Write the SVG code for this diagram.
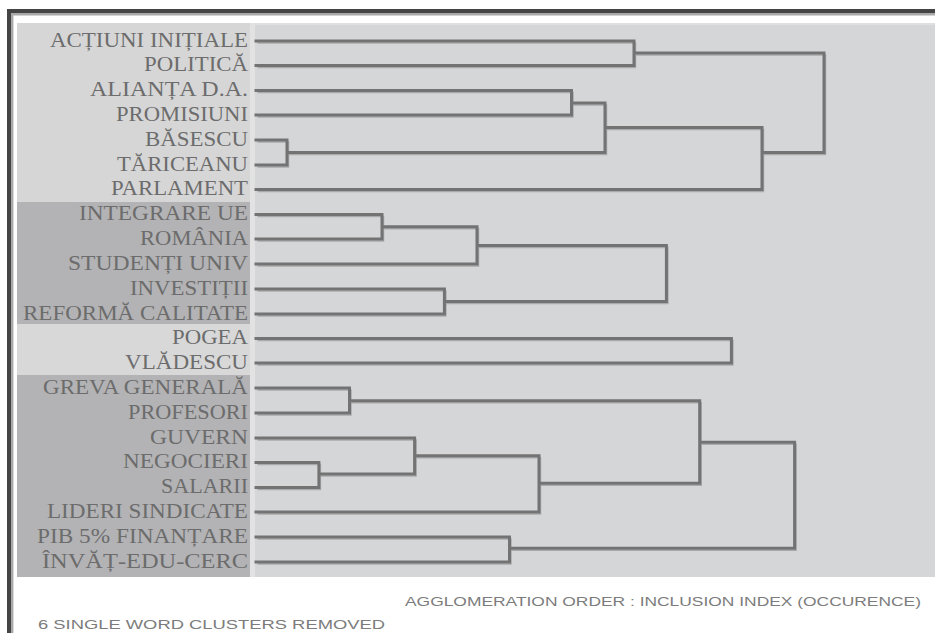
<svg xmlns="http://www.w3.org/2000/svg" width="935" height="633" viewBox="0 0 935 633">
<style>
.lbl{font-family:"Liberation Serif","DejaVu Serif",serif;font-size:22px;fill:#6c6c6c;text-anchor:end}
.foot{font-family:"Liberation Sans","DejaVu Sans",sans-serif;font-size:13px;fill:#7c7c7c}
.ln{fill:none;stroke:#737373;stroke-width:3;stroke-linecap:square;stroke-linejoin:miter}
.sh{fill:none;stroke:#a9aaac;stroke-width:1.5}
</style>
<rect x="0" y="0" width="935" height="633" fill="#ffffff"/>
<!-- frame -->
<path d="M9 633V11H935" fill="none" stroke="#454545" stroke-width="4"/>
<path d="M12.2 633V14.2H935" fill="none" stroke="#a9a9a9" stroke-width="2.4"/>
<!-- panel -->
<rect x="17" y="23" width="918" height="554" fill="#d5d6d8"/>
<rect x="17" y="23" width="918" height="2" fill="#dedfe0"/>
<!-- label bands -->
<rect x="17" y="23" width="233" height="179" fill="#d6d6d7"/>
<rect x="17" y="202" width="233" height="122" fill="#b3b3b5"/>
<rect x="17" y="324" width="233" height="51" fill="#d8d8d9"/>
<rect x="17" y="375" width="233" height="202" fill="#b3b3b5"/>
<rect x="250" y="23" width="5" height="554" fill="#e2e2e3"/>

<g id="n-actiuni"><text class="lbl" x="248" y="46.5" textLength="198" lengthAdjust="spacingAndGlyphs">ACȚIUNI INIȚIALE</text></g>
<g id="n-politica"><text class="lbl" x="248" y="71" textLength="104" lengthAdjust="spacingAndGlyphs">POLITICĂ</text></g>
<g id="n-alianta"><text class="lbl" x="248" y="96" textLength="158" lengthAdjust="spacingAndGlyphs">ALIANȚA D.A.</text></g>
<g id="n-promisiuni"><text class="lbl" x="248" y="120.5" textLength="132" lengthAdjust="spacingAndGlyphs">PROMISIUNI</text></g>
<g id="n-basescu"><text class="lbl" x="248" y="145.5" textLength="103" lengthAdjust="spacingAndGlyphs">BĂSESCU</text></g>
<g id="n-tariceanu"><text class="lbl" x="248" y="170.5" textLength="131" lengthAdjust="spacingAndGlyphs">TĂRICEANU</text></g>
<g id="n-parlament"><text class="lbl" x="248" y="195" textLength="137" lengthAdjust="spacingAndGlyphs">PARLAMENT</text></g>
<g id="n-integrare"><text class="lbl" x="248" y="220" textLength="169" lengthAdjust="spacingAndGlyphs">INTEGRARE UE</text></g>
<g id="n-romania"><text class="lbl" x="248" y="244.5" textLength="108" lengthAdjust="spacingAndGlyphs">ROMÂNIA</text></g>
<g id="n-studenti"><text class="lbl" x="248" y="269.5" textLength="180" lengthAdjust="spacingAndGlyphs">STUDENȚI UNIV</text></g>
<g id="n-investitii"><text class="lbl" x="248" y="294.5" textLength="118" lengthAdjust="spacingAndGlyphs">INVESTIȚII</text></g>
<g id="n-reforma"><text class="lbl" x="248" y="319.5" textLength="225" lengthAdjust="spacingAndGlyphs">REFORMĂ CALITATE</text></g>
<g id="n-pogea"><text class="lbl" x="248" y="344" textLength="76" lengthAdjust="spacingAndGlyphs">POGEA</text></g>
<g id="n-vladescu"><text class="lbl" x="248" y="368.5" textLength="123" lengthAdjust="spacingAndGlyphs">VLĂDESCU</text></g>
<g id="n-greva"><text class="lbl" x="248" y="393.5" textLength="205" lengthAdjust="spacingAndGlyphs">GREVA GENERALĂ</text></g>
<g id="n-profesori"><text class="lbl" x="248" y="418.5" textLength="120" lengthAdjust="spacingAndGlyphs">PROFESORI</text></g>
<g id="n-guvern"><text class="lbl" x="248" y="443.5" textLength="98" lengthAdjust="spacingAndGlyphs">GUVERN</text></g>
<g id="n-negocieri"><text class="lbl" x="248" y="468" textLength="125" lengthAdjust="spacingAndGlyphs">NEGOCIERI</text></g>
<g id="n-salarii"><text class="lbl" x="248" y="493" textLength="87" lengthAdjust="spacingAndGlyphs">SALARII</text></g>
<g id="n-lideri"><text class="lbl" x="248" y="517.5" textLength="201" lengthAdjust="spacingAndGlyphs">LIDERI SINDICATE</text></g>
<g id="n-pib"><text class="lbl" x="248" y="542.5" textLength="211" lengthAdjust="spacingAndGlyphs">PIB 5% FINANȚARE</text></g>
<g id="n-invat"><text class="lbl" x="248" y="567.5" textLength="206" lengthAdjust="spacingAndGlyphs">ÎNVĂȚ-EDU-CERC</text></g>

<g id="connectors">
<g class="sh" transform="translate(1.5,2)">
<path d="M256 41H634V65.5H256 M634 53H824V152.5H762 M256 90.5H571.5V115H256 M571.5 103H605V152.5H287 M256 140H287V165H256 M605 127.5H762V189.5H256"/>
<path d="M256 214.5H382V239H256 M382 226.7H477V264H256 M477 245.5H666.4V301.5H444.4 M256 289H444.4V314H256"/>
<path d="M256 338.5H731.4V363H256"/>
<path d="M256 388H349.5V413H256 M349.5 400.7H699.7V483.3H539 M256 462.5H318.9V487.5H256 M318.9 474H414.6V438H256 M414.6 455.7H539V512H256 M699.7 442.3H794.6V548.3H509.5 M256 537H509.5V562H256"/>
</g>
<g class="ln">
<path d="M256 41H634V65.5H256 M634 53H824V152.5H762 M256 90.5H571.5V115H256 M571.5 103H605V152.5H287 M256 140H287V165H256 M605 127.5H762V189.5H256"/>
<path d="M256 214.5H382V239H256 M382 226.7H477V264H256 M477 245.5H666.4V301.5H444.4 M256 289H444.4V314H256"/>
<path d="M256 338.5H731.4V363H256"/>
<path d="M256 388H349.5V413H256 M349.5 400.7H699.7V483.3H539 M256 462.5H318.9V487.5H256 M318.9 474H414.6V438H256 M414.6 455.7H539V512H256 M699.7 442.3H794.6V548.3H509.5 M256 537H509.5V562H256"/>
</g>
</g>

<text class="foot" x="405" y="606" textLength="516" lengthAdjust="spacingAndGlyphs">AGGLOMERATION ORDER : INCLUSION INDEX (OCCURENCE)</text>
<text class="foot" x="38" y="629" textLength="347" lengthAdjust="spacingAndGlyphs">6 SINGLE WORD CLUSTERS REMOVED</text>
</svg>
